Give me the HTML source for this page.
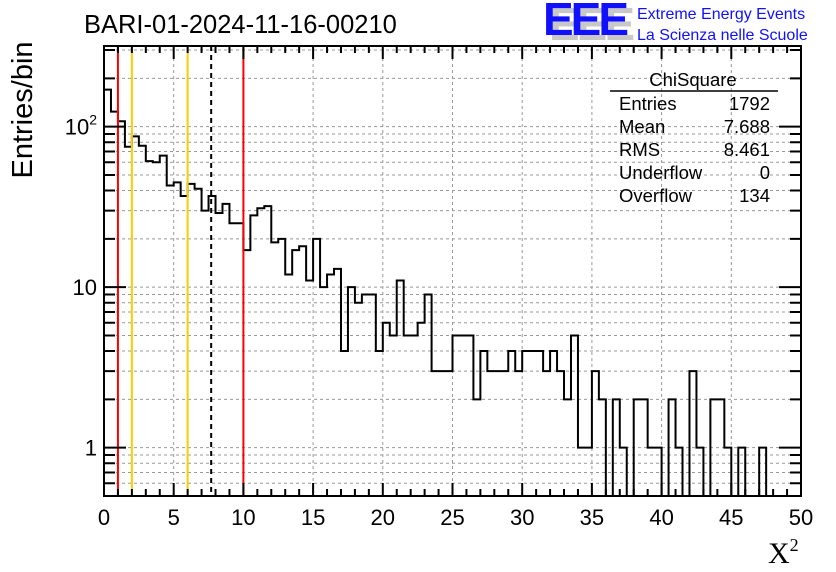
<!DOCTYPE html>
<html><head><meta charset="utf-8"><style>
body{margin:0;background:#fff}
svg{display:block;font-family:"Liberation Sans",sans-serif}
</style></head><body>
<svg id="c" width="836" height="572" viewBox="0 0 836 572" xmlns="http://www.w3.org/2000/svg">
<g id="grid"></g>
<g id="marks"></g>
<g id="axes"></g>
<text x="84" y="33" font-size="25.5">BARI-01-2024-11-16-00210</text>
<text transform="translate(32,110) rotate(-90)" text-anchor="middle" font-size="29">Entries/bin</text>
<text x="768" y="563" font-family="Liberation Serif,serif" font-size="30">X<tspan font-size="18" dy="-12">2</tspan></text>
<g>
<text x="549" y="40" font-size="46" font-weight="bold" fill="#c8c8c8" letter-spacing="-3">EEE</text>
<text x="543" y="35" font-size="46" font-weight="bold" fill="#1010ff" letter-spacing="-3">EEE</text>
<text x="637" y="19" font-size="16" fill="#1010ff">Extreme Energy Events</text>
<text x="637" y="40" font-size="16" fill="#1010ff">La Scienza nelle Scuole</text>
</g>
<g font-size="18.5">
<text x="693" y="86" text-anchor="middle">ChiSquare</text>
<line x1="610" y1="91" x2="778" y2="91" stroke="#000" stroke-width="1.5"/>
<text x="619" y="110">Entries</text><text x="770" y="110" text-anchor="end">1792</text>
<text x="619" y="133">Mean</text><text x="770" y="133" text-anchor="end">7.688</text>
<text x="619" y="156">RMS</text><text x="770" y="156" text-anchor="end">8.461</text>
<text x="619" y="179">Underflow</text><text x="770" y="179" text-anchor="end">0</text>
<text x="619" y="202">Overflow</text><text x="770" y="202" text-anchor="end">134</text>
</g>
</svg>
<script>
const binWidth = 0.5;
const counts = [170,124,108,75,87,76,61,60,66,43,45,37,44,41,30,37,29,33,25,25,
17,28,31,32,19,20,12,17,18,11,20,10,12,13,4,10,8,9,9,4,
6,5,11,5,5,6,9,3,3,3,5,5,5,2,4,3,3,3,4,3,
4,4,4,3,4,3,2,5,1,1,3,2,0,2,1,0,2,2,1,1,
0,2,1,0,3,1,0,2,2,1,0,1,0,0,1,0,0,0,0,0];
const xTicks = [0,5,10,15,20,25,30,35,40,45,50];
const yTickValues = [1,10,100];
const yTickBase = ["1","10","10"];
const yTickExp = ["","","2"];
const redLines = [1,10];
const yellowLines = [2,6];
const meanValue = 7.688;

const L=104,R=801,T=46,B=496, xmin=0,xmax=50, ymin=0.5, ymax=318;
const X=v=>L+(v-xmin)/(xmax-xmin)*(R-L);
const Y=v=>B-(Math.log10(v)-Math.log10(ymin))/(Math.log10(ymax)-Math.log10(ymin))*(B-T);
const NS="http://www.w3.org/2000/svg";
function mk(tag,parent,attrs){const e=document.createElementNS(NS,tag);for(const k in attrs)e.setAttribute(k,attrs[k]);parent.appendChild(e);return e;}
const grid=document.getElementById('grid'),marks=document.getElementById('marks'),axes=document.getElementById('axes');
for(const t of xTicks){if(t===0||t===50)continue;
 const g=mk('line',grid,{x1:X(t),x2:X(t),y1:T,y2:B,stroke:'#999','stroke-dasharray':'3,3','stroke-width':1});
 
 }
const logTicks=[];
for(const d of [0.1,1,10,100])for(let m=1;m<10;m++){const v=m*d;if(v>=ymin&&v<=ymax)logTicks.push({v,major:m===1});}
for(const lt of logTicks){
 const g=mk('line',grid,{x1:L,x2:R,y1:Y(lt.v),y2:Y(lt.v),stroke:'#999','stroke-dasharray':'3,3','stroke-width':1});
 
 }
let d='';
counts.forEach((c,i)=>{const x0=X(i*binWidth),x1=X((i+1)*binWidth);const y=c>0?Y(c):B;
 d+=(i===0?`M${x0},${y}`:`L${x0},${y}`)+`L${x1},${y}`;});
d+=`L${X(counts.length*binWidth)},${B}`;
const h=mk('path',marks,{d:d,fill:'none',stroke:'#000','stroke-width':2});


for(const v of redLines){const l=mk('line',marks,{x1:X(v),x2:X(v),y1:T,y2:B,stroke:'#ff0000','stroke-width':2});
 
 }
for(const v of yellowLines){const l=mk('line',marks,{x1:X(v),x2:X(v),y1:T,y2:B,stroke:'#ffcc00','stroke-width':2});
 
 }
const ml=mk('line',marks,{x1:X(meanValue),x2:X(meanValue),y1:T,y2:B,stroke:'#000','stroke-width':2,'stroke-dasharray':'5,4'});


const fr=mk('rect',axes,{x:L,y:T,width:R-L,height:B-T,fill:'none',stroke:'#000','stroke-width':2});


let td='';
for(let v=0;v<=50;v+=1){const len=(v%5===0)?13:7;td+=`M${X(v)},${B}v${-len}M${X(v)},${T}v${len}`;}
for(const lt of logTicks){const len=lt.major?22:11;td+=`M${L},${Y(lt.v)}h${len}M${R},${Y(lt.v)}h${-len}`;}
const tk=mk('path',axes,{d:td,stroke:'#000','stroke-width':2,fill:'none'});


for(const t of xTicks){const e=mk('text',axes,{x:X(t),y:525,'text-anchor':'middle','font-size':22});e.textContent=t;
 
 }
yTickValues.forEach((v,i)=>{
 const e=mk('text',axes,{x:97,y:Y(v)+8,'text-anchor':'end','font-size':22});
 e.textContent=yTickBase[i];
 if(yTickExp[i]){const s=mk('tspan',e,{'font-size':14,dy:-10});s.textContent=yTickExp[i];}
 
 });
</script>
</body></html>
